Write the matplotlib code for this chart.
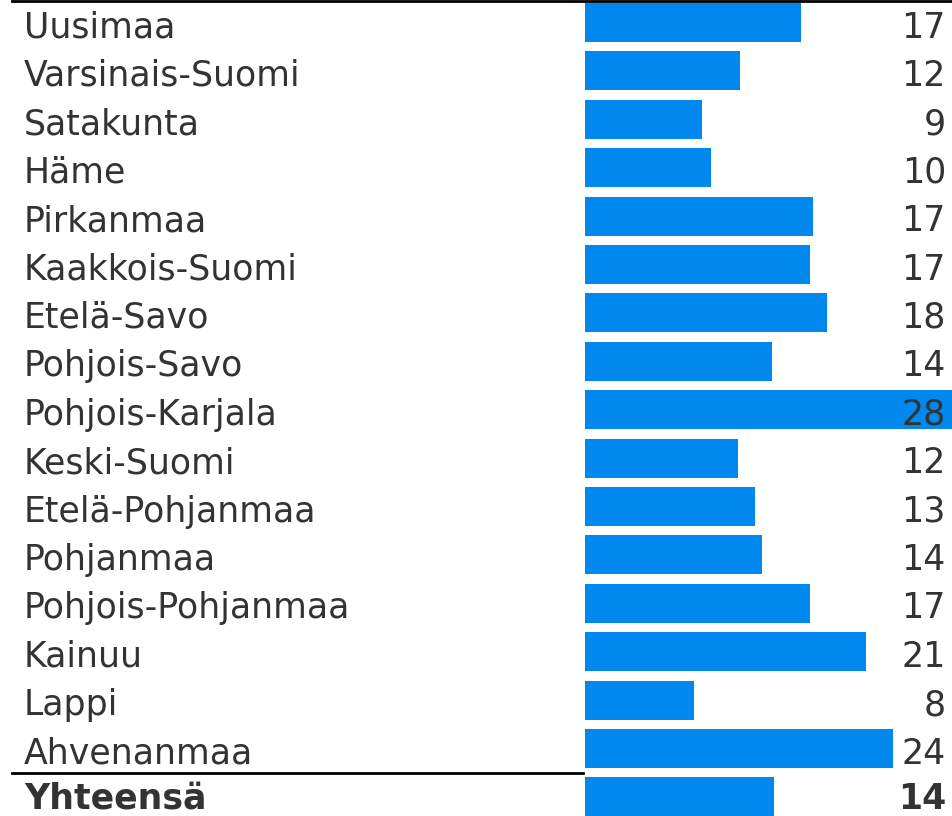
import matplotlib
matplotlib.use("Agg")
import matplotlib.pyplot as plt
from matplotlib.transforms import blended_transform_factory
from matplotlib.lines import Line2D

regions = ["Uusimaa", "Varsinais-Suomi", "Satakunta", "Häme", "Pirkanmaa",
           "Kaakkois-Suomi", "Etelä-Savo", "Pohjois-Savo", "Pohjois-Karjala",
           "Keski-Suomi", "Etelä-Pohjanmaa", "Pohjanmaa", "Pohjois-Pohjanmaa",
           "Kainuu", "Lappi", "Ahvenanmaa", "Yhteensä"]
values = [16.5, 11.85, 8.94, 9.63, 17.42, 17.2, 18.49, 14.29, 28.1,
          11.69, 12.99, 13.53, 17.2, 21.47, 8.33, 23.5, 14.44]
labels = ["17", "12", "9", "10", "17", "17", "18", "14", "28",
          "12", "13", "14", "17", "21", "8", "24", "14"]

W, H = 953, 816
fig = plt.figure(figsize=(W / 100, H / 100), dpi=100)
fig.patch.set_facecolor("white")

pitch = 48.4
first = 22.5
ax = fig.add_axes([585 / W, 0, (W - 585) / W, 1])
ax.set_xlim(0, 28.12)
y0 = -first / pitch
y1 = (H - first) / pitch
ax.set_ylim(y1, y0)
ax.axis("off")

ypos = list(range(len(regions)))
ax.barh(ypos, values, height=39 / pitch, color="#0088ee", zorder=1)

tr_lab = blended_transform_factory(fig.transFigure, ax.transData)
txtcol = "#333333"
fs = 25
for i, (r, l) in enumerate(zip(regions, labels)):
    bold = (r == "Yhteensä")
    boff = 0.24 if bold else 0.31
    ax.text(24 / W, i + boff, r, transform=tr_lab, ha="left", va="baseline",
            fontsize=fs, color=txtcol, fontfamily="DejaVu Sans",
            fontweight="bold" if bold else "normal", clip_on=False, zorder=3)
    ax.text(946 / W, i + boff, l, transform=tr_lab, ha="right", va="baseline",
            fontsize=fs, color=txtcol, fontfamily="DejaVu Sans",
            fontweight="bold" if bold else "normal", clip_on=False, zorder=3)

# top rule
fig.add_artist(Line2D([12 / W, 1], [1 - 1.2 / H, 1 - 1.2 / H],
                      transform=fig.transFigure, color="black", lw=2))
# separator above total
ysep = len(regions) - 1.5
fig.add_artist(Line2D([12 / W, 583 / W], [ysep, ysep],
                      transform=tr_lab, color="black", lw=2))

fig.savefig("out.png", dpi=100, facecolor="white")
